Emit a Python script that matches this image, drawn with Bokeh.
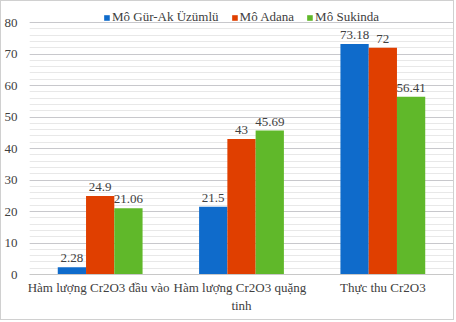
from bokeh.plotting import figure
from bokeh.models import ColumnDataSource, FactorRange, FixedTicker, Legend, LegendItem
from bokeh.transform import dodge
from bokeh.core.properties import value
from bokeh.embed import file_html
from bokeh.resources import INLINE

categories = ["Hàm lượng  Cr2O3 đầu vào", "Hàm lượng  Cr2O3 quặng\ntinh", "Thực thu Cr2O3"]
series_names = ["Mô Gür-Ak Üzümlü", "Mô Adana", "Mô Sukinda"]
gur_ak = [2.28, 21.5, 73.18]
adana = [24.9, 43, 72]
sukinda = [21.06, 45.69, 56.41]
colors = ["#0F6BCB", "#E03F00", "#60B82A"]
y_ticks = [0, 10, 20, 30, 40, 50, 60, 70, 80]
y_minor = list(range(0, 81, 2))

FONT = "Liberation Serif"
TXT = "#404040"

p = figure(width=454, height=320, x_range=FactorRange(*categories), y_range=(0, 85.4),
           output_backend="svg", toolbar_location=None,
           min_border_left=24, min_border_right=2, min_border_top=4, min_border_bottom=47)
p.styles = {"border": "1px solid #D0D0D0"}
p.outline_line_color = None
p.background_fill_color = "white"

series = [gur_ak, adana, sukinda]
offsets = [-0.2, 0.0, 0.2]
items = []
for name, vals, col, off in zip(series_names, series, colors, offsets):
    src = ColumnDataSource(dict(cat=categories, val=vals, lab=[f"{v:g}" for v in vals]))
    r = p.vbar(x=dodge("cat", off, range=p.x_range), top="val", width=0.2, source=src,
               fill_color=col, line_color=None)
    p.text(x=dodge("cat", off, range=p.x_range), y="val", text="lab", source=src,
           text_align="center", text_baseline="bottom", y_offset=-5,
           text_font=value(FONT), text_font_size="13px", text_color=TXT)
    items.append(LegendItem(label=name, renderers=[r]))

legend = Legend(items=items, orientation="horizontal", location="top_center",
                border_line_color=None, background_fill_alpha=0,
                glyph_width=7, glyph_height=7, label_standoff=2, spacing=12,
                label_text_font=FONT, label_text_font_size="13px", label_text_color=TXT,
                padding=0, margin=4, label_height=12)
p.add_layout(legend, "center")

p.yaxis.ticker = FixedTicker(ticks=y_ticks, minor_ticks=y_minor)
p.yaxis.axis_line_color = None
p.yaxis.major_tick_line_color = None
p.yaxis.minor_tick_line_color = None
p.yaxis.major_label_text_font = FONT
p.yaxis.major_label_text_font_size = "13px"
p.yaxis.major_label_text_color = TXT
p.yaxis.major_label_standoff = 6

p.ygrid.grid_line_color = "#C8C8CC"
p.ygrid.minor_grid_line_color = "#E8E8E8"
p.xgrid.grid_line_color = None

p.xaxis.axis_line_color = "#C8C8C8"
p.xaxis.major_tick_line_color = None
p.xaxis.minor_tick_line_color = None
p.xaxis.major_label_text_font = FONT
p.xaxis.major_label_text_font_size = "13px"
p.xaxis.major_label_text_color = TXT
p.xaxis.major_label_standoff = -1

open("out.html", "w").write(file_html(p, INLINE))
